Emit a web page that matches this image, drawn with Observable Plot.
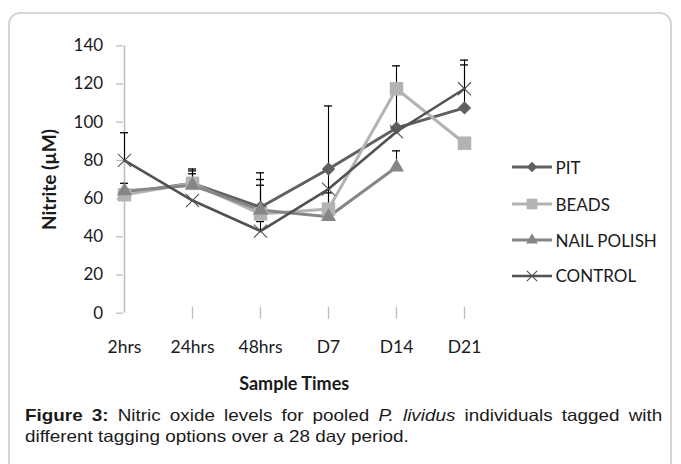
<!DOCTYPE html>
<html>
<head>
<meta charset="utf-8">
<script src="https://cdn.jsdelivr.net/npm/d3@7"></script>
<script src="https://cdn.jsdelivr.net/npm/@observablehq/plot@0.6"></script>
<style>
  html, body { margin: 0; padding: 0; background: #fff; }
  #wrap { position: relative; width: 681px; height: 464px; overflow: hidden; background: #fff; }
  #frame { position: absolute; left: 8px; top: 12px; width: 664px; height: 470px; border: 2px solid #d6d6d6; border-radius: 12px; box-sizing: border-box; }
  #chart { position: absolute; left: 0; top: 0; }
  #legend { position: absolute; left: 0; top: 0; font-family: Lato, "Open Sans", sans-serif; font-size: 17px; color: #1a1a1a; }
  .li { position: absolute; height: 20px; display: flex; align-items: center; white-space: nowrap; }
  .li svg { display: block; margin-right: 4px; }
  #caption { position: absolute; left: 25px; top: 405px; font-family: "Liberation Sans", Arial, sans-serif; font-size: 16.5px; line-height: 21px; color: #1a1a1a; transform: scaleX(1.144); transform-origin: 0 0; width: 557px; }
  #caption .l1 { text-align: justify; text-align-last: justify; display: block; }
  #caption .l2 { display: block; }
</style>
</head>
<body>
<div id="wrap">
  <div id="frame"></div>
  <div id="chart"></div>
  <div id="legend"></div>
  <div id="caption"><span class="l1"><b>Figure 3:</b> Nitric oxide levels for pooled <i>P. lividus</i> individuals tagged with</span><span class="l2">different tagging options over a 28 day period.</span></div>
</div>
<script>
// ---- data ----
const categories = ["2hrs", "24hrs", "48hrs", "D7", "D14", "D21"];
const seriesNames = ["PIT", "BEADS", "NAIL POLISH", "CONTROL"];
const pit        = [63, 68, 55.5, 75.5, 97, 107.5];
const beads      = [62, 68, 52, 54.5, 117.5, 89];
const nailPolish = [64, 67, 54, 50.5, 76.5, null];
const control    = [80, 59, 43, 65, 95, 117.5];
// upper error bar ends (null = no visible bar)
const pitErrTop        = [68, 75.5, 73.5, null, 129.5, 130];
const beadsErrTop      = [null, 74.5, 70, 108.5, null, null];
const nailPolishErrTop = [null, 73, 67, 63, 85, null];
const controlErrTop    = [94.5, null, 48, null, null, 132.5];
const yTicks = [0, 20, 40, 60, 80, 100, 120, 140];
const yTitle = "Nitrite (µM)";
const xTitle = "Sample Times";

// ---- styles ----
const seriesStyle = {
  "PIT":         {color: "#606060", symbol: "diamond2", r: 6,   width: 3},
  "BEADS":       {color: "#b3b3b3", symbol: "square",   r: 7.6, width: 3},
  "NAIL POLISH": {color: "#868686", symbol: "triangle", r: 5.6, width: 3},
  "CONTROL":     {color: "#525252", symbol: "times",    r: 6,   width: 2.6}
};
const valuesBySeries = [pit, beads, nailPolish, control];
const errBySeries = [pitErrTop, beadsErrTop, nailPolishErrTop, controlErrTop];

const rows = [];
seriesNames.forEach((s, si) => {
  categories.forEach((c, ci) => {
    const v = valuesBySeries[si][ci];
    if (v != null) rows.push({series: s, cat: c, value: v, top: errBySeries[si][ci]});
  });
});
const errRows = rows.filter(d => d.top != null);

const W = 681, H = 400;
const marks = [];
// axes lines
marks.push(Plot.ruleX([categories[0]], {x: d => d, y1: 0, y2: 140, stroke: "#bfbfbf", strokeWidth: 1.6}));
marks.push(Plot.ruleY([0], {y: d => d, x1: categories[0], x2: categories[categories.length - 1], stroke: "#bfbfbf", strokeWidth: 1.6}));
// x ticks crossing the axis
marks.push(Plot.ruleX(categories.slice(1), {x: d => d, y1: 0, y2: 0, insetTop: -6, insetBottom: -6, stroke: "#bfbfbf", strokeWidth: 1.4}));
marks.push(Plot.axisY({ticks: yTicks, tickSize: 6.5, tickPadding: 13.5, stroke: "#bfbfbf", strokeWidth: 1.4, fill: "#1a1a1a", label: null, tickFormat: d => String(d)}));
marks.push(Plot.axisX({tickSize: 0, tickPadding: 27, fill: "#1a1a1a", label: null, fontSize: 17.5}));
// titles
marks.push(Plot.text([xTitle], {frameAnchor: "bottom", dy: 71, text: d => d, fontWeight: "bold", fontSize: 18, fill: "#1a1a1a", lineAnchor: "middle", textAnchor: "middle"}));
marks.push(Plot.text([yTitle], {frameAnchor: "left", dx: -73, rotate: -90, text: d => d, fontWeight: "bold", fontSize: 19, fill: "#1a1a1a", lineAnchor: "middle", textAnchor: "middle"}));
// lines
seriesNames.forEach(s => {
  const st = seriesStyle[s];
  marks.push(Plot.line(rows.filter(d => d.series === s), {x: "cat", y: "value", stroke: st.color, strokeWidth: st.width, strokeLinejoin: "round"}));
});
// error bars
marks.push(Plot.ruleX(errRows, {x: "cat", y1: "value", y2: "top", stroke: "#000", strokeWidth: 1.1}));
marks.push(Plot.ruleY(errRows, {y: "top", x1: "cat", x2: "cat", insetLeft: -4, insetRight: -4, stroke: "#000", strokeWidth: 1.3}));
// markers
seriesNames.forEach(s => {
  const st = seriesStyle[s];
  const data = rows.filter(d => d.series === s);
  if (st.symbol === "times") {
    marks.push(Plot.dot(data, {x: "cat", y: "value", symbol: "times", r: st.r, stroke: st.color, strokeWidth: 1.1, fill: "none"}));
  } else {
    marks.push(Plot.dot(data, {x: "cat", y: "value", symbol: st.symbol, r: st.r, fill: st.color, stroke: "none"}));
  }
});

const chart = Plot.plot({
  width: W,
  height: H,
  marginLeft: 122.7,
  marginRight: 216.3,
  marginTop: 45.3,
  marginBottom: H - 312.7,
  style: {fontFamily: "Lato, 'Open Sans', sans-serif", fontSize: "17px", color: "#1a1a1a", background: "transparent", overflow: "visible"},
  x: {type: "point", domain: categories, padding: 0},
  y: {domain: [0, 140]},
  marks
});
document.getElementById("chart").appendChild(chart);

// ---- legend built from the series list ----
const legend = document.getElementById("legend");
const legendY = [167.3, 204, 240, 275.7];
seriesNames.forEach((s, i) => {
  const st = seriesStyle[s];
  const item = document.createElement("div");
  item.className = "li";
  item.style.left = "511.5px";
  item.style.top = (legendY[i] - 10) + "px";
  const sw = d3.create("svg").attr("width", 40).attr("height", 20);
  sw.append("line").attr("x1", 0).attr("x2", 40).attr("y1", 10).attr("y2", 10)
    .attr("stroke", st.color).attr("stroke-width", st.width);
  const symMap = {diamond2: d3.symbolDiamond2, square: d3.symbolSquare, triangle: d3.symbolTriangle, times: d3.symbolTimes};
  const size = Math.PI * st.r * st.r * 0.62;
  const p = sw.append("path").attr("transform", "translate(20,10)").attr("d", d3.symbol(symMap[st.symbol], size)());
  if (st.symbol === "times") p.attr("fill", "none").attr("stroke", st.color).attr("stroke-width", 1.1);
  else p.attr("fill", st.color);
  item.appendChild(sw.node());
  const t = document.createElement("span");
  t.textContent = s;
  item.appendChild(t);
  legend.appendChild(item);
});
</script>
</body>
</html>
